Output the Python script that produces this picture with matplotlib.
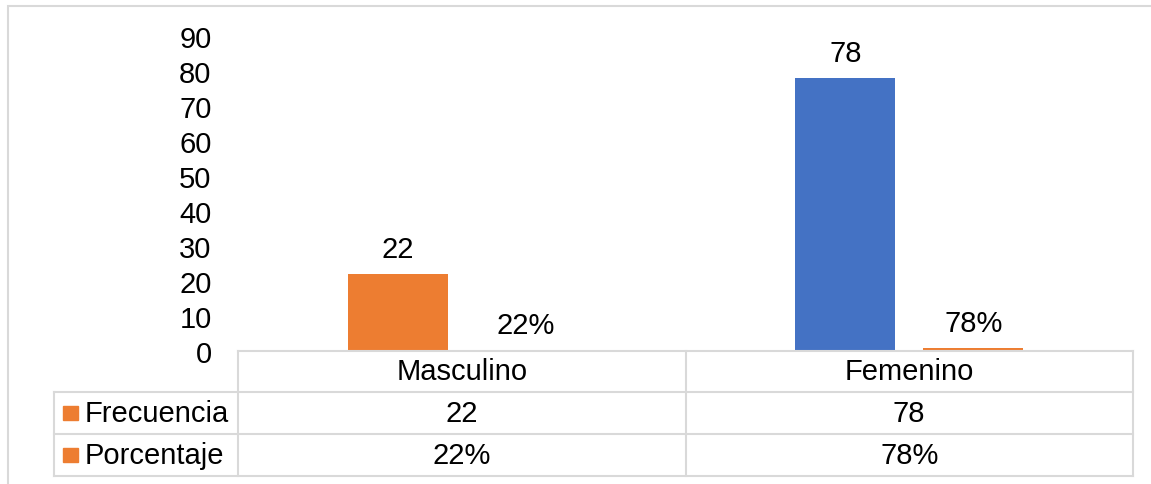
import matplotlib
matplotlib.use("Agg")
import matplotlib.pyplot as plt
from matplotlib.lines import Line2D
from matplotlib.patches import Rectangle
import numpy as np

categories = ["Masculino", "Femenino"]
series_names = ["Frecuencia", "Porcentaje"]
frecuencia = [22, 78]
porcentaje = [0.22, 0.78]
frecuencia_labels = ["22", "78"]
porcentaje_labels = ["22%", "78%"]
yticks = [0, 10, 20, 30, 40, 50, 60, 70, 80, 90]

ORANGE = "#ED7D31"
BLUE = "#4472C4"
GRID = "#D9D9D9"
frec_colors = [ORANGE, BLUE]
pct_colors = [ORANGE, ORANGE]
legend_colors = [ORANGE, ORANGE]

plt.rcParams['font.family'] = ['Liberation Sans', 'DejaVu Sans']
FS = 21

W, H = 1151, 485
fig = plt.figure(figsize=(W / 100, H / 100), dpi=100)

def fx(px):
    return px / W

def fy(py):
    return (H - py) / H

# plot area
x0, x1, ytop, ybot = 238, 1133, 37, 352
ax = fig.add_axes([fx(x0), fy(ybot), fx(x1) - fx(x0), fy(ytop) - fy(ybot)])
x = np.arange(len(categories))
bw = 0.224
off = 0.143
b1 = ax.bar(x - off, frecuencia, width=bw, color=frec_colors)
b2 = ax.bar(x + off, porcentaje, width=bw, color=pct_colors)
for rect, lab in zip(b1, frecuencia_labels):
    ax.annotate(lab, (rect.get_x() + rect.get_width() / 2, rect.get_height()),
                xytext=(0, 8), textcoords="offset points", ha="center", va="bottom", fontsize=FS)
for rect, lab in zip(b2, porcentaje_labels):
    ax.annotate(lab, (rect.get_x() + rect.get_width() / 2, rect.get_height()),
                xytext=(0, 8), textcoords="offset points", ha="center", va="bottom", fontsize=FS)
ax.set_xlim(-0.5, len(categories) - 0.5)
ax.set_ylim(0, 90)
ax.set_yticks(yticks)
ax.set_yticklabels([str(t) for t in yticks], fontsize=FS)
ax.tick_params(axis='y', length=0, pad=19)
ax.set_xticks([])
for s in ax.spines.values():
    s.set_visible(False)
ax.patch.set_alpha(0)

# outer chart border
fig.add_artist(Rectangle((fx(8), fy(500)), fx(1200) - fx(8), fy(7) - fy(500),
                         transform=fig.transFigure, fill=False, edgecolor=GRID, lw=1.5))

# data table
rows_y = [352, 393, 435, 477]
leg_x0 = 54
cat_edges = [x0 + (x1 - x0) * i / len(categories) for i in range(len(categories) + 1)]

def hline(xa, xb, y):
    fig.add_artist(Line2D([fx(xa), fx(xb)], [fy(y), fy(y)], transform=fig.transFigure, color=GRID, lw=1.5))

def vline(xx, ya, yb):
    fig.add_artist(Line2D([fx(xx), fx(xx)], [fy(ya), fy(yb)], transform=fig.transFigure, color=GRID, lw=1.5))

hline(x0, x1, rows_y[0])
for y in rows_y[1:]:
    hline(leg_x0, x1, y)
vline(leg_x0, rows_y[1], rows_y[3])
for xe in cat_edges:
    vline(xe, rows_y[0], rows_y[3])

def cy(i):
    return (rows_y[i] + rows_y[i + 1]) / 2

for i, cat in enumerate(categories):
    cx = (cat_edges[i] + cat_edges[i + 1]) / 2
    fig.text(fx(cx), fy(cy(0)), cat, ha="center", va="center", fontsize=FS)
    fig.text(fx(cx), fy(cy(1)), frecuencia_labels[i], ha="center", va="center", fontsize=FS)
    fig.text(fx(cx), fy(cy(2)), porcentaje_labels[i], ha="center", va="center", fontsize=FS)

for r, (name, col) in enumerate(zip(series_names, legend_colors)):
    yc = cy(r + 1)
    fig.add_artist(Rectangle((fx(63), fy(yc + 7)), fx(78) - fx(63), fy(yc - 7) - fy(yc + 7),
                             transform=fig.transFigure, color=col))
    fig.text(fx(85), fy(yc), name, ha="left", va="center", fontsize=FS)

fig.savefig("out.png", dpi=100)
